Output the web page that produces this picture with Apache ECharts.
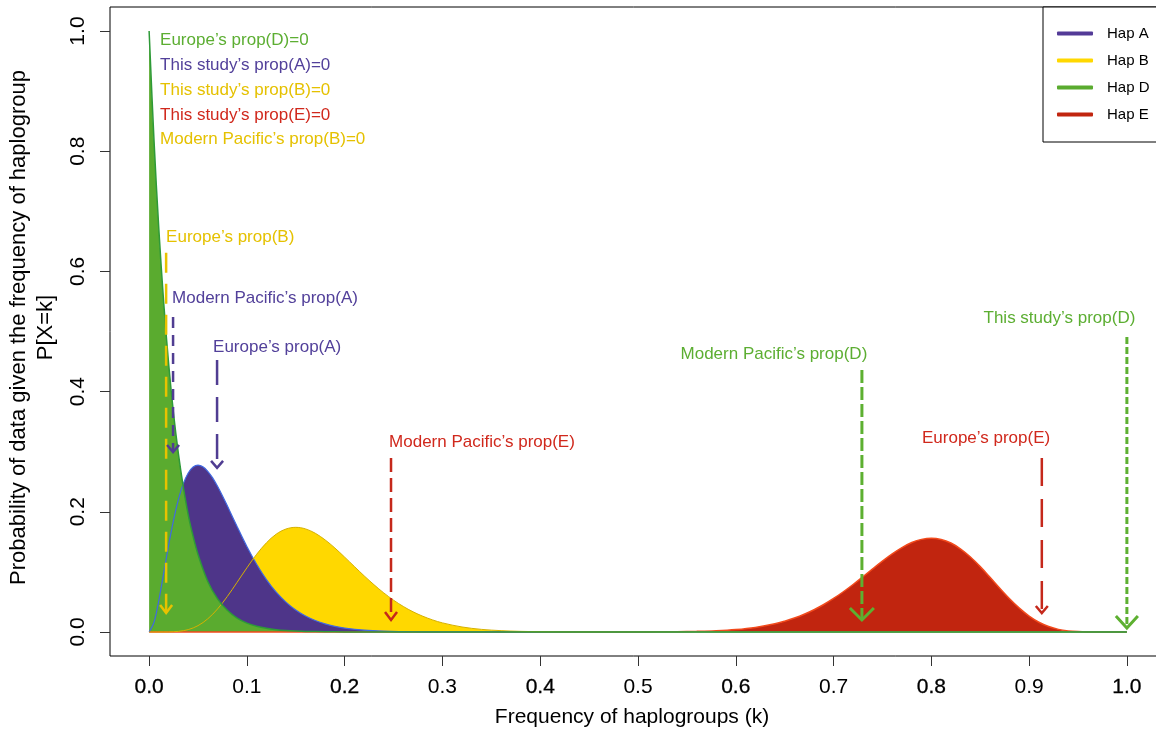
<!DOCTYPE html>
<html>
<head>
<meta charset="utf-8">
<title>Haplogroup frequency likelihoods</title>
<script src="https://cdn.jsdelivr.net/npm/echarts@6/dist/echarts.min.js"></script>
<style>
html, body { margin: 0; padding: 0; background: #fff; }
#chart { width: 1156px; height: 733px; }
</style>
</head>
<body>
<div id="chart"></div>
<script>
// Probability of the data, P[X=k], for each haplogroup as a function of its frequency k

// Hap A
const kA = [0, 0.005, 0.01, 0.015, 0.02, 0.025, 0.03, 0.035, 0.04, 0.045, 0.05, 0.055, 0.06, 0.065, 0.07, 0.075, 0.08, 0.09, 0.10, 0.11, 0.12, 0.13, 0.14, 0.15, 0.16, 0.17, 0.18, 0.19, 0.20, 0.22, 0.24, 0.26, 0.28, 0.30, 0.35, 1.0];
const pA = [0, 0.0161, 0.0532, 0.0988, 0.1448, 0.1863, 0.2206, 0.2468, 0.2646, 0.2745, 0.2777, 0.2749, 0.2674, 0.2564, 0.2425, 0.2268, 0.2100, 0.1755, 0.1423, 0.1126, 0.0872, 0.0663, 0.0496, 0.0365, 0.0265, 0.0190, 0.0134, 0.0094, 0.0065, 0.0030, 0.0013, 0.0006, 0.0002, 0.0001, 0, 0];

// Hap B
const kB = [0, 0.01, 0.02, 0.03, 0.04, 0.05, 0.06, 0.07, 0.08, 0.09, 0.10, 0.11, 0.12, 0.13, 0.14, 0.15, 0.16, 0.17, 0.18, 0.19, 0.20, 0.21, 0.22, 0.23, 0.24, 0.25, 0.26, 0.27, 0.28, 0.29, 0.30, 0.32, 0.34, 0.36, 0.38, 0.40, 0.42, 0.45, 1.0];
const pB = [0, 0, 0.0001, 0.0010, 0.0039, 0.0105, 0.0219, 0.0383, 0.0591, 0.0827, 0.1067, 0.1293, 0.1484, 0.1628, 0.1713, 0.1741, 0.1715, 0.1642, 0.1532, 0.1397, 0.1245, 0.1088, 0.0933, 0.0786, 0.0650, 0.0529, 0.0424, 0.0335, 0.0261, 0.0200, 0.0151, 0.0083, 0.0043, 0.0022, 0.0010, 0.0005, 0.0002, 0.0001, 0];

// Hap D
const kD = [0, 0.005, 0.01, 0.015, 0.02, 0.025, 0.03, 0.035, 0.04, 0.045, 0.05, 0.06, 0.07, 0.08, 0.09, 0.10, 0.11, 0.12, 0.13, 0.14, 0.15, 0.16, 0.18, 0.20, 0.25, 1.0];
const pD = [1.000, 0.818, 0.669, 0.546, 0.446, 0.363, 0.296, 0.241, 0.195, 0.159, 0.129, 0.084, 0.055, 0.036, 0.023, 0.0148, 0.0095, 0.0060, 0.0038, 0.0024, 0.0015, 0.0009, 0.0004, 0.0001, 0, 0];

// Hap E
const kE = [0, 0.50, 0.52, 0.54, 0.56, 0.58, 0.60, 0.62, 0.64, 0.65, 0.66, 0.67, 0.68, 0.69, 0.70, 0.71, 0.72, 0.73, 0.74, 0.75, 0.76, 0.77, 0.78, 0.79, 0.80, 0.81, 0.82, 0.83, 0.84, 0.85, 0.86, 0.87, 0.88, 0.89, 0.90, 0.91, 0.92, 0.93, 0.94, 0.95, 0.96, 0.97, 1.0];
const pE = [0, 0.0001, 0.0002, 0.0004, 0.0010, 0.0020, 0.0040, 0.0076, 0.0136, 0.0179, 0.0231, 0.0294, 0.0370, 0.0457, 0.0557, 0.0669, 0.0790, 0.0919, 0.1050, 0.1179, 0.1299, 0.1404, 0.1488, 0.1541, 0.1561, 0.1540, 0.1480, 0.1380, 0.1247, 0.1087, 0.0910, 0.0728, 0.0553, 0.0396, 0.0264, 0.0162, 0.0090, 0.0043, 0.0018, 0.0006, 0.0001, 0, 0];

// Axis ticks
const xTickValues = [0, 0.1, 0.2, 0.3, 0.4, 0.5, 0.6, 0.7, 0.8, 0.9, 1.0];
const xTickLabels = ['0.0', '0.1', '0.2', '0.3', '0.4', '0.5', '0.6', '0.7', '0.8', '0.9', '1.0'];
const yTickValues = [0, 0.2, 0.4, 0.6, 0.8, 1.0];
const yTickLabels = ['0.0', '0.2', '0.4', '0.6', '0.8', '1.0'];

// Observed proportions, marked with arrows
const obsNames = ['Europe’s prop(B)', 'Modern Pacific’s prop(A)', 'Europe’s prop(A)', 'Modern Pacific’s prop(E)', 'Modern Pacific’s prop(D)', 'Europe’s prop(E)', 'This study’s prop(D)'];
const obsHap = ['B', 'A', 'A', 'E', 'D', 'E', 'D'];
const obsFreq = [0.0174, 0.0245, 0.0695, 0.2474, 0.729, 0.913, 1.0];

// Proportions that are zero, listed in the top-left corner
const zeroNames = ['Europe’s prop(D)=0', 'This study’s prop(A)=0', 'This study’s prop(B)=0', 'This study’s prop(E)=0', 'Modern Pacific’s prop(B)=0'];
const zeroHap = ['D', 'A', 'B', 'E', 'B'];

// ---- appearance and annotation layout ----
const FONT = '"Liberation Sans", Arial, Helvetica, sans-serif';
const fillColor = { A: '#4E3589', B: '#FFD800', D: '#5AAB2F', E: '#C1250F' };
const legendColor = { A: '#533A97', B: '#FFD800', D: '#5AAB2F', E: '#C1250F' };
const edgeColor = { A: '#4169E1', B: '#D6B100', D: '#2E9A38', E: '#F24A1C' };
const textColor = { A: '#52409A', B: '#E5C100', D: '#5CAE32', E: '#D0281C' };
const arrowColor = { A: '#503D92', B: '#E8C200', D: '#5DB031', E: '#C5281B' };

// one entry per observed proportion, same order as obsNames
const arrowTop = [0.631, 0.524, 0.4526, 0.2895, 0.436, 0.2895, 0.491];
const arrowTip = [0.0316, 0.2995, 0.273, 0.020, 0.020, 0.0316, 0.0067];
const obsLabelX = [0.0174, 0.0235, 0.0654, 0.2454, 0.639, 0.856, 0.931];
const obsLabelY = [0.656, 0.556, 0.474, 0.316, 0.4626, 0.323, 0.5225];
const obsLabelAlign = ['left', 'left', 'left', 'left', 'center', 'center', 'center'];
const arrowDash = [[20, 11], [11, 7], [25, 12], [14, 6], [13, 4], [28, 13], [7, 3]];
const arrowWidth = [2.5, 2.5, 2.5, 2.5, 3, 2.5, 3];
const headHalf = [6, 6, 6, 6, 12, 6, 11];
const headLen = [8, 7, 7, 8, 12, 7, 12];

const zeroLabelX = 0.0112;
const zeroLabelY = [0.985, 0.9435, 0.902, 0.8605, 0.819];

function pairs(k, p) { return k.map((v, i) => [v, p[i]]); }

const curves = [
  { name: 'Hap B', hap: 'B', k: kB, p: pB, z: 2 },
  { name: 'Hap A', hap: 'A', k: kA, p: pA, z: 3 },
  { name: 'Hap D', hap: 'D', k: kD, p: pD, z: 4 },
  { name: 'Hap E', hap: 'E', k: kE, p: pE, z: 2 }
];

const series = [];
// filled areas under each curve
curves.forEach(c => {
  series.push({
    type: 'line', name: c.name, data: pairs(c.k, c.p),
    smooth: 0.35, symbol: 'none', showSymbol: false,
    lineStyle: { width: 0 },
    itemStyle: { color: legendColor[c.hap] },
    areaStyle: { color: fillColor[c.hap], opacity: 1 },
    z: c.z, silent: true
  });
});
// thin edges drawn above all fills
[['E', kE, pE, 1.5], ['A', kA, pA, 1.2], ['B', kB, pB, 1.0], ['D', kD, pD, 1.5]].forEach(([h, k, p, w]) => {
  series.push({
    type: 'line', name: 'edge ' + h, data: pairs(k, p),
    smooth: 0.35, symbol: 'none', showSymbol: false,
    lineStyle: { color: edgeColor[h], width: w },
    z: 5, silent: true
  });
});
// arrows pointing at the observed proportions
series.push({
  type: 'custom', name: 'observed', coordinateSystem: 'cartesian2d', z: 8, silent: true,
  data: obsFreq.map((f, i) => [f, arrowTop[i], arrowTip[i]]),
  renderItem: (params, api) => {
    const i = params.dataIndex;
    const h = obsHap[i];
    const top = api.coord([api.value(0), api.value(1)]);
    const tip = api.coord([api.value(0), api.value(2)]);
    const lab = api.coord([obsLabelX[i], obsLabelY[i]]);
    const c = arrowColor[h];
    return {
      type: 'group',
      children: [
        { type: 'line', shape: { x1: top[0], y1: top[1], x2: tip[0], y2: tip[1] },
          style: { stroke: c, lineWidth: arrowWidth[i], lineDash: arrowDash[i], lineCap: 'butt' } },
        { type: 'polyline', shape: { points: [[tip[0] - headHalf[i], tip[1] - headLen[i]], [tip[0], tip[1]], [tip[0] + headHalf[i], tip[1] - headLen[i]]] },
          style: { stroke: c, lineWidth: arrowWidth[i], fill: null } },
        { type: 'text', x: lab[0], y: lab[1],
          style: { text: obsNames[i], fill: textColor[h], fontSize: 17, fontFamily: FONT, align: obsLabelAlign[i], verticalAlign: 'middle' } }
      ]
    };
  }
});
// labels for proportions equal to zero
series.push({
  type: 'custom', name: 'zero', coordinateSystem: 'cartesian2d', z: 8, silent: true,
  data: zeroNames.map((n, i) => [zeroLabelX, zeroLabelY[i]]),
  renderItem: (params, api) => {
    const i = params.dataIndex;
    const pt = api.coord([api.value(0), api.value(1)]);
    return { type: 'text', x: pt[0], y: pt[1],
      style: { text: zeroNames[i], fill: textColor[zeroHap[i]], fontSize: 17, fontFamily: FONT, align: 'left', verticalAlign: 'middle' } };
  }
});

const chart = echarts.init(document.getElementById('chart'), null, { renderer: 'canvas' });
chart.setOption({
  animation: false,
  backgroundColor: '#fff',
  textStyle: { fontFamily: FONT },
  grid: { left: 110, right: -10, top: 7, bottom: 77, show: true, borderColor: '#000', borderWidth: 1, backgroundColor: 'transparent', containLabel: false, outerBoundsMode: 'none' },
  legend: {
    show: true, orient: 'vertical', left: 1043, top: 7,
    data: ['Hap A', 'Hap B', 'Hap D', 'Hap E'],
    icon: 'roundRect', itemWidth: 36, itemHeight: 4, itemGap: 12,
    padding: [19, 40, 20, 14],
    borderColor: '#000', borderWidth: 1, borderRadius: 0, backgroundColor: '#fff',
    selectedMode: false,
    textStyle: { fontSize: 15, color: '#000', fontFamily: FONT, padding: [0, 0, 0, 9] }
  },
  xAxis: {
    type: 'value', min: -0.04, max: 1.04,
    name: 'Frequency of haplogroups (k)', nameLocation: 'middle', nameGap: 51,
    nameTextStyle: { fontSize: 21, color: '#000', fontFamily: FONT, padding: [0, 12, 0, 0] },
    axisLine: { show: false, onZero: false },
    splitLine: { show: false },
    axisTick: { show: true, customValues: xTickValues, length: 10, lineStyle: { color: '#333', width: 1 } },
    axisLabel: {
      customValues: xTickValues, margin: 21, fontSize: 21, color: '#000', fontFamily: FONT,
      formatter: v => {
        const i = xTickValues.findIndex(t => Math.abs(t - v) < 1e-9);
        const s = i >= 0 ? xTickLabels[i] : '';
        return i % 2 === 0 ? '{m|' + s + '}' : s;
      },
      rich: { m: { fontSize: 21, color: '#000', fontFamily: FONT, textBorderColor: '#000', textBorderWidth: 0.3 } }
    }
  },
  yAxis: {
    type: 'value', min: -0.04, max: 1.04,
    name: 'Probability of data given the frequency of haplogroup\nP[X=k]', nameLocation: 'middle', nameRotate: 90, nameGap: 51,
    nameTextStyle: { fontSize: 22, lineHeight: 27, color: '#000', fontFamily: FONT, align: 'center', padding: [0, 0, 0, 8] },
    axisLine: { show: false, onZero: false },
    splitLine: { show: false },
    axisTick: { show: true, customValues: yTickValues, length: 10, lineStyle: { color: '#333', width: 1 } },
    axisLabel: {
      customValues: yTickValues, rotate: 90, margin: 21, fontSize: 21, color: '#000', fontFamily: FONT,
      formatter: v => {
        const i = yTickValues.findIndex(t => Math.abs(t - v) < 1e-9);
        return i >= 0 ? yTickLabels[i] : '';
      }
    }
  },
  series: series
});
</script>
</body>
</html>
